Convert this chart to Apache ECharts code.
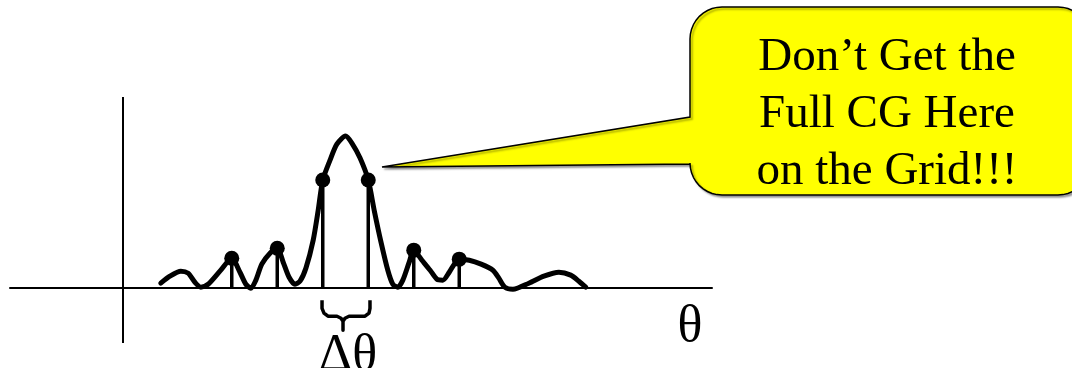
<!DOCTYPE html>
<html>
<head>
<meta charset="utf-8">
<script src="https://cdn.jsdelivr.net/npm/echarts@6/dist/echarts.min.js"></script>
<style>
  html, body { margin: 0; padding: 0; background: #ffffff; }
  #chart { width: 1072px; height: 368px; }
</style>
</head>
<body>
<div id="chart"></div>
<script>
// Continuous pattern (theta in units of sample spacing, amplitude normalised to peak = 1)
const thetaCurve = [-4.06,-3.86,-3.62,-3.46,-3.31,-3.18,-3.02,-2.76,-2.50,-2.32,-2.19,-2.08,-1.97,-1.84,-1.66,-1.50,-1.37,-1.24,-1.11,-1.00,-0.87,-0.71,-0.60,-0.50,-0.34,-0.19,0.00,0.14,0.32,0.50,0.63,0.78,0.93,1.04,1.15,1.26,1.40,1.50,1.68,1.86,2.01,2.14,2.28,2.39,2.50,2.72,2.98,3.24,3.37,3.50,3.68,4.03,4.36,4.69,4.95,5.13,5.28];
const ampCurve = [0.033,0.079,0.112,0.099,0.039,0.007,0.026,0.112,0.197,0.105,0.026,0.0,0.053,0.158,0.230,0.263,0.171,0.072,0.026,0.046,0.132,0.316,0.513,0.711,0.842,0.947,1.0,0.954,0.855,0.711,0.513,0.303,0.118,0.026,0.007,0.053,0.171,0.250,0.184,0.118,0.059,0.053,0.105,0.158,0.191,0.184,0.158,0.118,0.066,0.007,-0.007,0.033,0.079,0.105,0.086,0.046,0.007];

// Grid samples
const sampleTheta = [-2.5, -1.5, -0.5, 0.5, 1.5, 2.5];
const sampleAmp = [0.197, 0.263, 0.711, 0.711, 0.250, 0.191];

// Brace marking the sample spacing
const braceTheta = [-0.516,-0.516,-0.473,-0.385,-0.187,-0.099,-0.055,-0.055,-0.055,-0.011,0.077,0.429,0.516,0.538,0.538];
const braceAmp = [-0.079,-0.132,-0.164,-0.184,-0.184,-0.197,-0.217,-0.276,-0.217,-0.197,-0.184,-0.184,-0.164,-0.132,-0.079];

// Vertical (amplitude) axis position
const verticalAxisTheta = -4.89;

// Texts
const axisLabel = 'θ';
const spacingLabel = 'Δθ';
const calloutLines = ['Don’t Get the', 'Full CG Here', 'on the Grid!!!'];

const serif = '"Liberation Serif", "Times New Roman", serif';

function zip(a, b) { return a.map((v, i) => [v, b[i]]); }

// Speech bubble outline (rounded box with a tail)
function bubblePoints() {
  const x0 = 690, y0 = 7, x1 = 1090, y1 = 195, r = 32;
  const pts = [];
  function arc(cx, cy, a0, a1) {
    const n = 10;
    for (let i = 0; i <= n; i++) {
      const a = a0 + (a1 - a0) * i / n;
      pts.push([cx + r * Math.cos(a), cy + r * Math.sin(a)]);
    }
  }
  arc(x0 + r, y0 + r, Math.PI, 1.5 * Math.PI);
  arc(x1 - r, y0 + r, 1.5 * Math.PI, 2 * Math.PI);
  arc(x1 - r, y1 - r, 0, 0.5 * Math.PI);
  arc(x0 + r, y1 - r, 0.5 * Math.PI, Math.PI);
  pts.push([x0, 164]);
  pts.push([382, 167]);
  pts.push([x0, 117]);
  return pts;
}

const chart = echarts.init(document.getElementById('chart'), null, { renderer: 'canvas' });

chart.setOption({
  animation: false,
  backgroundColor: '#ffffff',
  grid: { left: 10, right: 360, top: 97, bottom: 25 },
  xAxis: {
    type: 'value', min: -7.374, max: 8.055,
    axisLine: { show: true, onZero: true, lineStyle: { color: '#000', width: 2 } },
    axisTick: { show: false }, axisLabel: { show: false }, splitLine: { show: false }
  },
  yAxis: {
    type: 'value', min: -0.36, max: 1.2566,
    axisLine: { show: false }, axisTick: { show: false },
    axisLabel: { show: false }, splitLine: { show: false }
  },
  series: [
    {
      type: 'line',
      data: zip(thetaCurve, ampCurve),
      symbol: 'none',
      smooth: 0.25,
      itemStyle: { color: '#000' },
      lineStyle: { color: '#000', width: 5, opacity: 1, cap: 'round', join: 'round' },
      emphasis: { disabled: true },
      silent: true,
      z: 3,
      markLine: {
        silent: true,
        symbol: ['none', 'none'],
        label: { show: false },
        lineStyle: { color: '#000', width: 2, type: 'solid', opacity: 1 },
        data: [{ xAxis: verticalAxisTheta }]
      }
    },
    {
      type: 'custom',
      data: zip(sampleTheta, sampleAmp),
      silent: true,
      z: 2,
      renderItem: function (params, api) {
        const top = api.coord([api.value(0), api.value(1)]);
        const base = api.coord([api.value(0), 0]);
        return {
          type: 'line',
          shape: { x1: top[0], y1: top[1], x2: base[0], y2: base[1] },
          style: { stroke: '#000', lineWidth: 3.5 }
        };
      }
    },
    {
      type: 'scatter',
      data: zip(sampleTheta, sampleAmp),
      symbol: 'circle',
      symbolSize: 15,
      itemStyle: { color: '#000', opacity: 1 },
      emphasis: { disabled: true },
      silent: true,
      z: 4
    },
    {
      type: 'line',
      data: zip(braceTheta, braceAmp),
      symbol: 'none',
      smooth: false,
      lineStyle: { color: '#000', width: 3.5, opacity: 1, join: 'round' },
      emphasis: { disabled: true },
      silent: true,
      z: 3
    }
  ],
  graphic: [
    {
      type: 'polygon',
      shape: { points: bubblePoints() },
      style: {
        fill: '#ffff00', stroke: '#000', lineWidth: 1.5,
        shadowColor: 'rgba(0,0,0,0.35)', shadowBlur: 2, shadowOffsetX: 2, shadowOffsetY: 2
      },
      z: 10, silent: true
    },
    {
      type: 'text',
      x: 887, y: 115,
      style: {
        text: calloutLines.join('\n'),
        font: '47px ' + serif,
        lineHeight: 57,
        fill: '#000',
        align: 'center', verticalAlign: 'middle',
        textAlign: 'center', textVerticalAlign: 'middle'
      },
      z: 11, silent: true
    },
    {
      type: 'text',
      x: 690, y: 327,
      style: {
        text: axisLabel,
        font: '52px ' + serif,
        fill: '#000',
        align: 'center', verticalAlign: 'middle',
        textAlign: 'center', textVerticalAlign: 'middle'
      },
      z: 11, silent: true
    },
    {
      type: 'text',
      x: 348, y: 356,
      style: {
        text: spacingLabel,
        font: '52px ' + serif,
        fill: '#000',
        align: 'center', verticalAlign: 'middle',
        textAlign: 'center', textVerticalAlign: 'middle'
      },
      z: 11, silent: true
    }
  ]
});
</script>
</body>
</html>
